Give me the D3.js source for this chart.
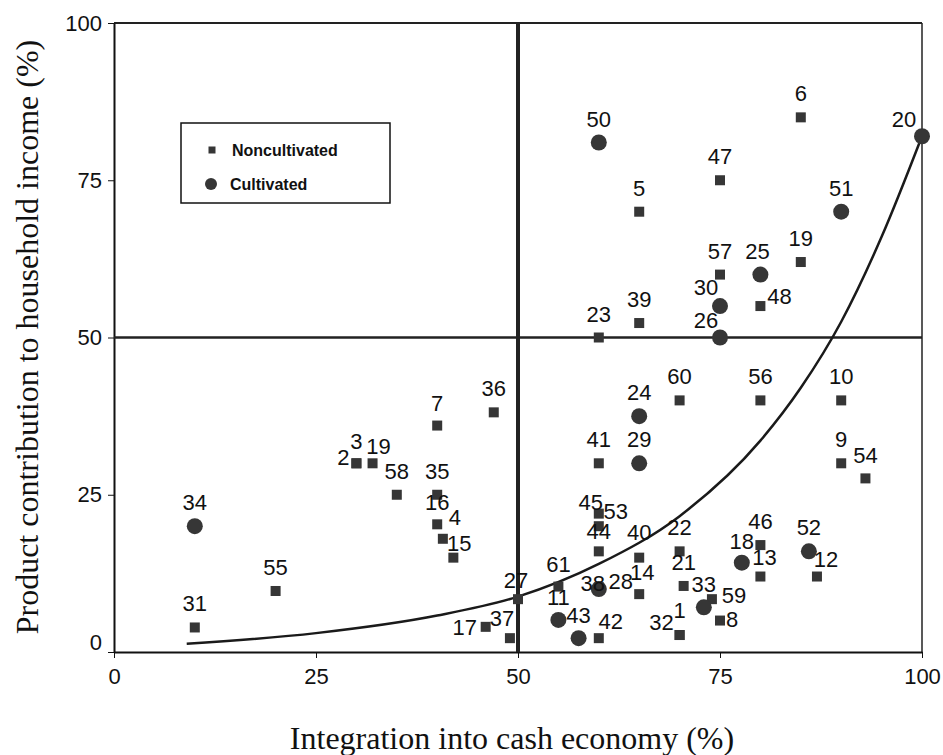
<!DOCTYPE html>
<html lang="en">
<head>
  <meta charset="UTF-8">
  <title>Product contribution vs. integration into cash economy</title>
  <script src="https://d3js.org/d3.v7.min.js"></script>
  <style>
    body { margin: 0; background: #fff; }
    svg { display: block; font-family: 'Liberation Sans', Arial, sans-serif; }
    .axis text { font-size: 22px; fill: #111; }
    .axis path, .axis line { stroke: #111; }
    .title { font-family: 'Liberation Serif', 'Times New Roman', serif; font-size: 32px; fill: #111; }
    .pt-label { font-size: 22px; fill: #111; text-anchor: middle; }
    .legend text { font-size: 16px; font-weight: bold; fill: #111; }
  </style>
</head>
<body>
  <div id="chart"></div>
  <script>
    // tick values
    const xTicks = [0, 25, 50, 75, 100];
    const yTicks = [0, 25, 50, 75, 100];

    // [label, cash economy %, contribution %]
    const noncultivated = [
      ["6", 85, 85], ["47", 75, 75], ["5", 65, 70], ["19", 85, 62], ["57", 75, 60],
      ["48", 80, 55], ["39", 65, 52.3], ["23", 60, 50], ["36", 47, 38.1], ["60", 70, 40],
      ["56", 80, 40], ["10", 90, 40], ["41", 60, 30], ["9", 90, 30], ["54", 93, 27.6],
      ["45", 60, 20], ["53", 60, 22], ["44", 60, 16], ["40", 65, 15], ["22", 70, 16],
      ["46", 80, 17], ["13", 80, 12], ["12", 87, 12], ["61", 55, 10.4], ["27", 50, 8.4],
      ["28", 60, 10.3], ["14", 65, 9.2], ["21", 70.5, 10.5], ["59", 74, 8.4], ["8", 75, 5],
      ["1", 70, 2.7], ["32", 70, 2.7], ["42", 60, 2.2], ["37", 49, 2.2], ["17", 46, 4],
      ["7", 40, 36], ["2", 30, 30], ["3", 30, 30], ["19", 32, 30], ["58", 35, 25],
      ["35", 40, 25], ["16", 40, 20.3], ["4", 40.7, 18], ["15", 42, 15], ["55", 20, 9.7],
      ["31", 10, 3.9]
    ];
    const cultivated = [
      ["50", 60, 81], ["20", 100, 82], ["51", 90, 70], ["25", 80, 60], ["30", 75, 55],
      ["26", 75, 50], ["24", 65, 37.5], ["29", 65, 30], ["18", 77.7, 14.2], ["52", 86, 16],
      ["38", 60, 10], ["33", 73, 7.1], ["11", 55, 5.1], ["43", 57.5, 2.2], ["34", 10, 20]
    ];

    // trend curve
    const trendX = [9, 25, 40, 50, 60, 70, 80, 85, 90, 95, 100];
    const trendY = [1.3, 3.0, 5.8, 8.8, 14, 21.6, 33.6, 42, 52.5, 66, 82];

    // label nudges (px) where the label is not straight above its marker
    const nudge = {
      "c20": [-18, -9], "c30": [-14, -11], "n48": [19, -2], "c26": [-14, -10], "c25": [-3, -16],
      "n45": [-8, -16], "n53": [17, 5], "n44": [0, -12], "n40": [0, -18], "c18": [0, -14],
      "n13": [4, -12], "n12": [9, -10], "n27": [-2, -11], "n42": [12, -9], "n37": [-8, -12],
      "n17": [-21, 8], "c38": [-6, 2], "n28": [22, 2], "n14": [3, -14], "c33": [0, -15],
      "n59": [22, 4], "n8": [12, 6], "n1": [0, -17], "n32": [-18, -5], "n2": [-13, 2],
      "n3": [0, -14], "n19#2": [6, -9], "n16": [0, -14], "n4": [12, -14], "n15": [6, -7],
      "n54": [0, -15], "n61": [0, -15], "c11": [0, -15], "c43": [0, -15], "n7": [0, -15]
    };

    const W = 943, H = 755;
    const x = d3.scaleLinear().domain([0, 100]).range([114, 922]);
    const y = d3.scaleLinear().domain([0, 100]).range([652, 23]);

    const svg = d3.select("#chart").append("svg")
      .attr("width", W).attr("height", H);
    svg.append("rect").attr("width", W).attr("height", H).attr("fill", "#fff");

    // frame (top and right)
    svg.append("line").attr("x1", x(0)).attr("x2", x(100)).attr("y1", y(100)).attr("y2", y(100))
      .attr("stroke", "#222").attr("stroke-width", 2);
    svg.append("line").attr("x1", x(100)).attr("x2", x(100)).attr("y1", y(0)).attr("y2", y(100))
      .attr("stroke", "#222").attr("stroke-width", 1.5);

    // axes
    const gx = svg.append("g").attr("class", "axis")
      .attr("transform", `translate(0,${y(0)})`)
      .call(d3.axisBottom(x).tickValues(xTicks).tickSize(6).tickPadding(10).tickSizeOuter(0));
    const gy = svg.append("g").attr("class", "axis")
      .attr("transform", `translate(${x(0)},0)`)
      .call(d3.axisLeft(y).tickValues(yTicks).tickSize(6).tickPadding(6).tickSizeOuter(0));
    gx.select(".domain").attr("stroke-width", 2);
    gy.select(".domain").attr("stroke-width", 2);
    gy.selectAll(".tick").filter(d => d === 0).select("text").attr("y", -10);

    // 50% reference lines
    svg.append("line").attr("x1", x(0)).attr("x2", x(100)).attr("y1", y(50)).attr("y2", y(50))
      .attr("stroke", "#222").attr("stroke-width", 2.5);
    svg.append("line").attr("x1", x(50)).attr("x2", x(50)).attr("y1", y(0)).attr("y2", y(100))
      .attr("stroke", "#222").attr("stroke-width", 4);

    // trend curve
    const trend = trendX.map((v, i) => [v, trendY[i]]);
    svg.append("path")
      .datum(trend)
      .attr("fill", "none")
      .attr("stroke", "#1a1a1a")
      .attr("stroke-width", 2.5)
      .attr("d", d3.line().x(d => x(d[0])).y(d => y(d[1])).curve(d3.curveMonotoneX));

    // markers
    const markColor = "#363636";
    svg.selectAll(".sq").data(noncultivated).enter().append("rect")
      .attr("class", "sq")
      .attr("x", d => x(d[1]) - 5).attr("y", d => y(d[2]) - 5)
      .attr("width", 10).attr("height", 10)
      .attr("fill", markColor);
    svg.selectAll(".ci").data(cultivated).enter().append("circle")
      .attr("class", "ci")
      .attr("cx", d => x(d[1])).attr("cy", d => y(d[2]))
      .attr("r", 8)
      .attr("fill", markColor);

    // point labels
    function labelKeys(rows, prefix) {
      const seen = {};
      return rows.map(r => {
        seen[r[0]] = (seen[r[0]] || 0) + 1;
        const k = prefix + r[0] + (seen[r[0]] > 1 ? "#" + seen[r[0]] : "");
        return { label: r[0], x: r[1], y: r[2], key: k };
      });
    }
    const allLabels = labelKeys(noncultivated, "n").concat(labelKeys(cultivated, "c"));
    svg.selectAll(".pt-label").data(allLabels).enter().append("text")
      .attr("class", "pt-label")
      .attr("x", d => x(d.x) + (nudge[d.key] ? nudge[d.key][0] : 0))
      .attr("y", d => y(d.y) + (nudge[d.key] ? nudge[d.key][1] : -16))
      .text(d => d.label);

    // legend
    const lg = svg.append("g").attr("class", "legend");
    lg.append("rect").attr("x", 181).attr("y", 123).attr("width", 209).attr("height", 80)
      .attr("fill", "#fff").attr("stroke", "#111").attr("stroke-width", 1.5);
    lg.append("rect").attr("x", 208.5).attr("y", 146.5).attr("width", 7).attr("height", 7).attr("fill", markColor);
    lg.append("text").attr("x", 232).attr("y", 155.5).text("Noncultivated");
    lg.append("circle").attr("cx", 211).attr("cy", 184).attr("r", 6).attr("fill", markColor);
    lg.append("text").attr("x", 230).attr("y", 190).text("Cultivated");

    // axis titles
    svg.append("text").attr("class", "title")
      .attr("x", 512).attr("y", 749).attr("text-anchor", "middle")
      .text("Integration into cash economy (%)");
    svg.append("text").attr("class", "title")
      .attr("transform", "translate(38,337) rotate(-90)")
      .attr("text-anchor", "middle")
      .text("Product contribution to household income (%)");
  </script>
</body>
</html>
